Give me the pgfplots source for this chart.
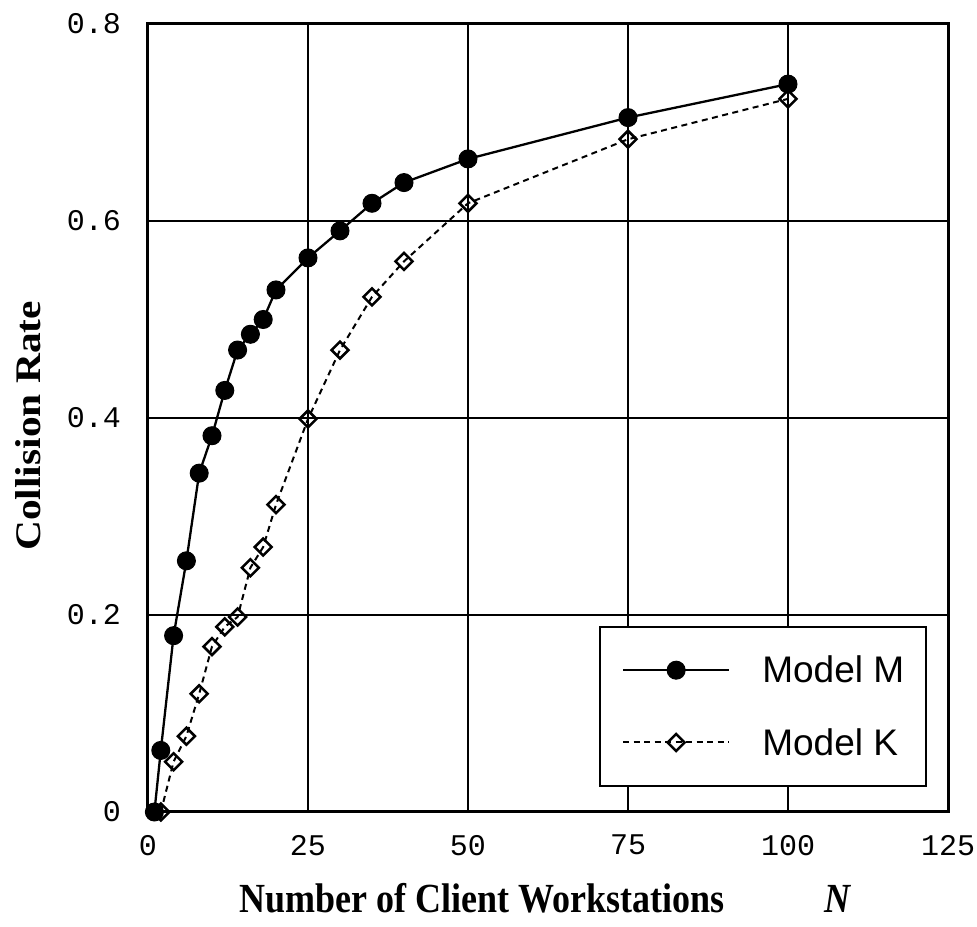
\documentclass[border=0pt]{standalone}
\usepackage{fontspec}
\setmainfont{Liberation Serif}
\newfontfamily\monofont{Liberation Mono}
\newfontfamily\sansfont{Liberation Sans}
\usepackage{pgfplots}
\pgfplotsset{compat=1.18}

% Collision rate against the number of client workstations
\pgfplotstableread{
N   rate
1   0
2   0.0625
4   0.179
6   0.255
8   0.344
10  0.382
12  0.428
14  0.469
16  0.485
18  0.500
20  0.530
25  0.5625
30  0.590
35  0.618
40  0.639
50  0.663
75  0.705
100 0.739
}\modelM

\pgfplotstableread{
N   rate
2   0
4   0.051
6   0.077
8   0.120
10  0.168
12  0.188
14  0.198
16  0.248
18  0.269
20  0.312
25  0.399
30  0.469
35  0.523
40  0.559
50  0.618
75  0.683
100 0.724
}\modelK

\begin{document}
\begin{tikzpicture}
\begin{axis}[
  scale only axis,
  width=800pt, height=788pt,
  xmin=0, xmax=125, ymin=0, ymax=0.8,
  xtick={0,25,50,75,100,125},
  ytick={0,0.2,0.4,0.6,0.8},
  major tick length=0pt,
  grid=major,
  major grid style={black, line width=2pt},
  axis line style={black, line width=3pt},
  clip=false,
  /pgf/number format/assume math mode=true,
  ticklabel style={font=\monofont\fontsize{30}{36}\selectfont, inner sep=0pt},
  xticklabel style={anchor=north, yshift=-23pt},
  yticklabel style={anchor=east, xshift=-27pt},
  xlabel={\scalebox{1}[1.15]{\fontsize{36}{42}\selectfont\bfseries Number of Client Workstations\hspace{100pt}\textit{N}}},
  xlabel style={at={(axis description cs:0.497,-0.128)}, anchor=base, inner sep=0pt},
  ylabel={\scalebox{1.15}[1]{\fontsize{36}{42}\selectfont\bfseries Collision Rate}},
  ylabel style={at={(axis description cs:-0.15,0.49)}, anchor=center, inner sep=0pt},
  legend image code/.code={
    \draw[mark repeat=2, mark phase=2, #1]
      plot coordinates {(0pt,0pt) (53pt,0pt) (106pt,0pt)};
  },
  legend style={
    at={(rel axis cs:0.974,0.236)}, anchor=north east,
    draw=black, line width=2pt, fill=white,
    inner xsep=22pt, inner ysep=29pt,
    font=\sansfont\fontsize{37}{42}\selectfont,
    nodes={inner sep=0pt, anchor=west},
    row sep=44pt, column sep=32pt,
  },
  legend cell align=left,
]
\addplot[black, line width=2.3pt, mark=*, mark size=9pt,
  mark options={solid, fill=black, line width=1pt}]
  table[x=N, y=rate] {\modelM};
\addlegendentry{Model M}

\addplot[black, line width=2pt, dash pattern=on 6pt off 4.5pt,
  mark=square, mark size=6pt,
  mark options={solid, fill=white, line width=2.5pt, rotate=45}]
  table[x=N, y=rate] {\modelK};
\addlegendentry{Model K}

\coordinate (sw) at (rel axis cs:0,0);
\coordinate (ne) at (rel axis cs:1,1);
\end{axis}
\pgfresetboundingbox
\path ([shift={(-148pt,-115pt)}]sw) rectangle ([shift={(29pt,24pt)}]ne);
\end{tikzpicture}
\end{document}
